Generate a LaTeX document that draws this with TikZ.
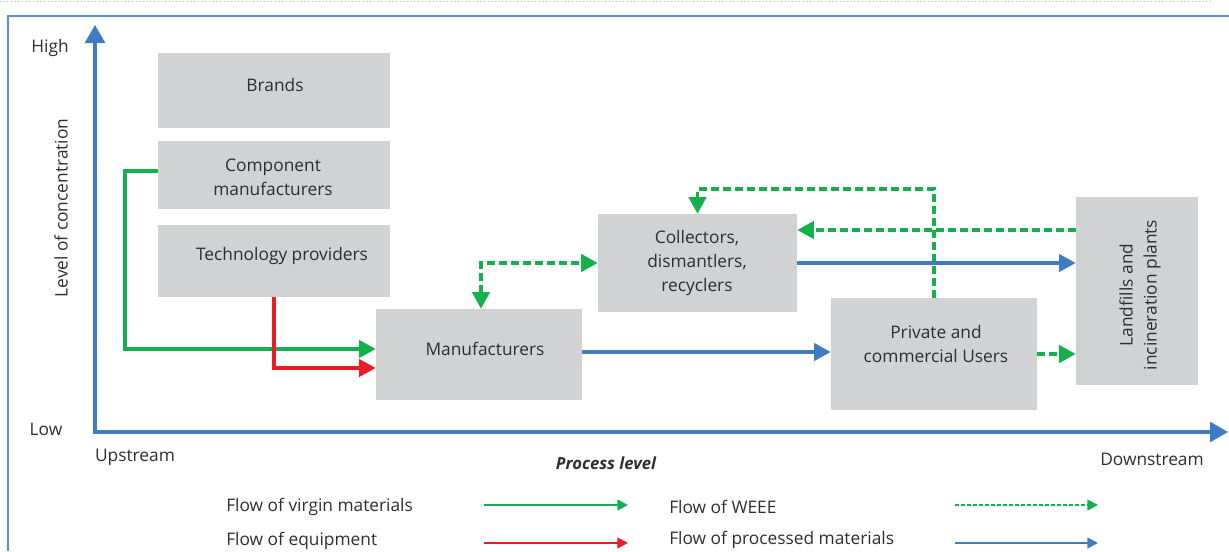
\documentclass[tikz,border=0pt]{standalone}
\usepackage{fontspec}
\setmainfont{Open Sans}
\usetikzlibrary{arrows.meta}
\definecolor{cgreen}{HTML}{13B04B}
\definecolor{cred}{HTML}{ED1C24}
\definecolor{cblue}{HTML}{3F7CC1}
\definecolor{cframe}{HTML}{5A8FCF}
\definecolor{cgray}{HTML}{D1D2D4}
\definecolor{ctext}{HTML}{2E2E2E}
\begin{document}
\begin{tikzpicture}[x=0.75pt,y=-0.75pt,
  box/.style={fill=cgray,draw=none,inner sep=0pt},
  txt/.style={text=ctext,font=\fontsize{13}{18}\selectfont,align=center,inner sep=0pt},
  bigtip/.style={-{Triangle[length=12.5pt,width=13pt]}},
  vflow/.style={cgreen,line width=2.4pt,bigtip},
  eflow/.style={cred,line width=2.4pt,bigtip},
  pflow/.style={cblue,line width=2.4pt,bigtip},
  wflow/.style={cgreen,line width=2.6pt,dash pattern=on 6pt off 3pt,bigtip},
  axis/.style={cblue,line width=2.3pt},
  legtip/.style={-{Triangle[length=8pt,width=8pt]}},
]
\useasboundingbox (0,0) rectangle (1229,551);
% top dotted line and frame
\draw[black!30,dotted,line width=0.75pt] (0,1) -- (1213,1);
\draw[cframe,line width=1.6pt] (8,551) -- (8,16) -- (1229,16);

% axes
\coordinate (O) at (95,432);
\coordinate (ytop) at (95,25);
\coordinate (xend) at (1228,432);
\draw[axis,{Triangle[length=13.5pt,width=15pt]}-{Triangle[length=13.5pt,width=15pt]}] (ytop) -- (O) -- (xend);

\node[txt] (high) at (50,48) {High};
\node[txt] (low) at (46,429) {Low};
\node[txt] (up) at (135,457) {Upstream};
\node[txt] (down) at (1152,459) {Downstream};
\node[txt,font=\bfseries\itshape\fontsize{12.5}{15}\selectfont] (proc) at (606,463) {Process level};
\node[txt,rotate=90] (level) at (61,208) {Level of concentration};

% boxes
\node[box,minimum width=174pt,minimum height=56.25pt] (brand) at (274,90.5) {};
\node[txt] (brandt) at (275,85) {Brands};
\node[box,minimum width=174pt,minimum height=51pt] (comp) at (274,175) {};
\node[txt] (compt) at (273,177) {Component\\manufacturers};
\node[box,minimum width=174pt,minimum height=54pt] (tech) at (274,261) {};
\node[txt] (techt) at (282,256) {Technology providers};
\node[box,minimum width=154.5pt,minimum height=68.25pt] (manu) at (479,354.5) {};
\node[txt] (manut) at (485,349) {Manufacturers};
\node[box,minimum width=149.25pt,minimum height=73.5pt] (coll) at (697.5,263) {};
\node[txt] (collt) at (697,263) {Collectors,\\dismantlers,\\recyclers};
\node[box,minimum width=154.5pt,minimum height=84pt] (priv) at (934,354) {};
\node[txt] (privt) at (936,344) {Private and\\commercial Users};
\node[box,minimum width=91.5pt,minimum height=141pt] (land) at (1137,291) {};
\node[txt,rotate=90] (landt) at (1140,295) {Landfills and\\incineration plants};

% flows
\draw[vflow] (comp.west |- 0,171) -| (125,349) -- (manu.west |- 0,349);
\draw[eflow] (tech.south) |- (manu.west |- 0,368);
\draw[wflow,{Triangle[length=12.5pt,width=13pt]}-{Triangle[length=12.5pt,width=13pt]}] (manu.north -| 481,0) |- (coll.west);
\draw[wflow] (priv.north) |- (coll.north |- 0,189) -- (coll.north);
\draw[wflow] (land.west |- 0,230) -- (coll.east |- 0,230);
\draw[pflow] (coll.east) -- (land.west |- coll.east);
\draw[pflow] (manu.east |- 0,352) -- (priv.west |- 0,352);
\draw[wflow] (priv.east) -- (land.west |- priv.east);

% legend
\node[txt,anchor=west] (l1) at (226,507) {Flow of virgin materials};
\node[txt,anchor=west] (l2) at (226,541) {Flow of equipment};
\node[txt,anchor=west] (l3) at (669,507) {Flow of WEEE};
\node[txt,anchor=west] (l4) at (669,540) {Flow of processed materials};
\coordinate (a1s) at (484,505); \coordinate (a1e) at (628,505);
\coordinate (a2s) at (484,543); \coordinate (a2e) at (628,543);
\coordinate (a3s) at (955,505); \coordinate (a3e) at (1098,505);
\coordinate (a4s) at (955,543); \coordinate (a4e) at (1098,543);
\draw[cgreen,line width=1.6pt,legtip] (a1s) -- (a1e);
\draw[cred,line width=1.6pt,legtip] (a2s) -- (a2e);
\draw[cgreen,line width=1.6pt,dash pattern=on 3pt off 1.5pt,legtip] (a3s) -- (a3e);
\draw[cblue,line width=1.6pt,legtip] (a4s) -- (a4e);
\end{tikzpicture}
\end{document}
